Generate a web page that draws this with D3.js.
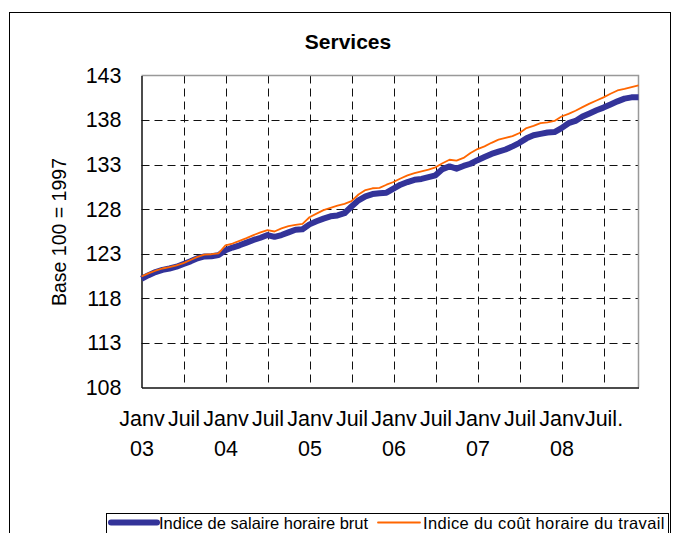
<!DOCTYPE html>
<html>
<head>
<meta charset="utf-8">
<script src="https://cdn.jsdelivr.net/npm/d3@7/dist/d3.min.js"></script>
<style>
  html, body { margin: 0; padding: 0; background: #fff; }
  svg { display: block; font-family: "Liberation Sans", Arial, sans-serif; }
</style>
</head>
<body>
<svg id="chart" width="673" height="533"></svg>
<script>
// ---- Data (monthly, Jan 2003 - Dec 2008) ----
const years = ["03", "04", "05", "06", "07", "08"];
const monthNames = ["Janv", "Févr", "Mars", "Avr", "Mai", "Juin", "Juil", "Août", "Sept", "Oct", "Nov", "Déc"];
const categories = [];
years.forEach(y => monthNames.forEach(m => categories.push(m + " " + y)));

const salaireHoraireBrut = [
  120.2, 120.6, 120.95, 121.2, 121.35, 121.55, 121.85, 122.15, 122.5, 122.7, 122.72, 122.85,
  123.4, 123.7, 123.95, 124.25, 124.55, 124.8, 125.1, 124.9, 125.1, 125.4, 125.7, 125.75,
  126.3, 126.65, 126.95, 127.2, 127.3, 127.55, 128.3, 129.0, 129.45, 129.7, 129.8, 129.85,
  130.3, 130.75, 131.05, 131.3, 131.4, 131.6, 131.8, 132.5, 132.8, 132.55, 132.85, 133.1,
  133.5, 133.85, 134.2, 134.45, 134.7, 135.05, 135.45, 135.95, 136.3, 136.45, 136.6, 136.65,
  137.1, 137.65, 137.9, 138.4, 138.75, 139.1, 139.4, 139.75, 140.1, 140.4, 140.55, 140.55
];
const coutHoraireTravail = [
  120.45, 120.8, 121.1, 121.35, 121.5, 121.7, 121.95, 122.3, 122.65, 122.9, 122.95, 123.05,
  123.95, 124.15, 124.45, 124.75, 125.1, 125.4, 125.65, 125.5, 125.85, 126.1, 126.25, 126.35,
  127.1, 127.5, 127.9, 128.15, 128.4, 128.6, 128.9, 129.65, 130.15, 130.35, 130.4, 130.75,
  131.05, 131.45, 131.8, 132.05, 132.25, 132.45, 132.7, 133.15, 133.55, 133.45, 133.75, 134.3,
  134.75, 135.05, 135.45, 135.8, 136.0, 136.2, 136.55, 137.1, 137.35, 137.65, 137.75, 137.9,
  138.4, 138.7, 139.05, 139.45, 139.85, 140.2, 140.55, 140.95, 141.32, 141.5, 141.7, 141.9
];

const xTickIndex = [0, 6, 12, 18, 24, 30, 36, 42, 48, 54, 60, 66];
const xTickLabels = ["Janv|03", "Juil", "Janv|04", "Juil", "Janv|05", "Juil", "Janv|06", "Juil", "Janv|07", "Juil", "Janv|08", "Juil."];
const yTicks = [108, 113, 118, 123, 128, 133, 138, 143];

const title = "Services";
const yTitle = "Base 100 = 1997";
const seriesNames = ["Indice de salaire horaire brut", "Indice du coût horaire du travail"];

// ---- Layout ----
const svg = d3.select("#chart");
const W = 673, H = 533;
const plot = { left: 141.5, right: 638.5, top: 75.5, bottom: 387.5 };
const FONT = "'Liberation Sans', Arial, sans-serif";

svg.append("rect").attr("width", W).attr("height", H).attr("fill", "#fff");
// outer frame
svg.append("rect")
  .attr("x", 9.5).attr("y", 12.5).attr("width", 661).attr("height", 600)
  .attr("fill", "none").attr("stroke", "#000").attr("stroke-width", 1);

const x = d3.scaleLinear().domain([0, categories.length - 1]).range([plot.left, plot.right]);
const y = d3.scaleLinear().domain([108, 143]).range([plot.bottom, plot.top]);

// gridlines
const grid = svg.append("g");
grid.selectAll("line.h").data(yTicks.filter(v => v > 108 && v < 143)).join("line")
  .attr("x1", plot.left).attr("x2", plot.right)
  .attr("y1", d => Math.round(y(d)) + 0.5).attr("y2", d => Math.round(y(d)) + 0.5)
  .attr("stroke", "#111").attr("stroke-width", 1).attr("stroke-dasharray", "8,5");
grid.selectAll("line.v").data(xTickIndex.filter(i => i > 0)).join("line")
  .attr("y1", plot.top).attr("y2", plot.bottom)
  .attr("x1", d => Math.round(x(d)) + 0.5).attr("x2", d => Math.round(x(d)) + 0.5)
  .attr("stroke", "#111").attr("stroke-width", 1).attr("stroke-dasharray", "8,5");

// plot border (top/right gray)
svg.append("path")
  .attr("d", `M${plot.left},${plot.top}H${plot.right}V${plot.bottom}`)
  .attr("fill", "none").attr("stroke", "#999").attr("stroke-width", 1.5);

// axes
const yAxis = d3.axisLeft(y).tickValues(yTicks).tickSize(0).tickPadding(20).tickFormat(d3.format("d"));
const gy = svg.append("g").attr("transform", `translate(${plot.left},0)`).call(yAxis);
gy.select(".domain").attr("stroke", "#111").attr("stroke-width", 1.5);
gy.selectAll("text").attr("font-size", 21.5).attr("fill", "#000").attr("font-family", FONT);

const xAxis = d3.axisBottom(x).tickValues(xTickIndex).tickSize(0).tickPadding(0)
  .tickFormat((d, i) => xTickLabels[i]);
const gx = svg.append("g").attr("transform", `translate(0,${plot.bottom})`).call(xAxis);
gx.select(".domain").attr("stroke", "#111").attr("stroke-width", 1.5);
gx.selectAll("text").each(function(d, i) {
  const parts = xTickLabels[i].split("|");
  const t = d3.select(this).text(null)
    .attr("font-size", 21.5).attr("fill", "#000").attr("font-family", FONT)
    .attr("dy", null).attr("y", 0);
  parts.forEach((p, k) => {
    t.append("tspan").attr("x", 0).attr("y", 38 + k * 30).text(p);
  });
});

// lines
const line = d3.line().x((d, i) => x(i)).y(d => y(d));
svg.append("path").datum(salaireHoraireBrut)
  .attr("d", line).attr("fill", "none")
  .attr("stroke", "#333399").attr("stroke-width", 6).attr("stroke-linejoin", "round");
svg.append("path").datum(coutHoraireTravail)
  .attr("d", line).attr("fill", "none")
  .attr("stroke", "#FF6600").attr("stroke-width", 1.8).attr("stroke-linejoin", "round");

// title
svg.append("text").attr("x", 348).attr("y", 49).attr("text-anchor", "middle")
  .attr("font-size", 21).attr("font-weight", "bold").attr("font-family", FONT).text(title);

// y title
svg.append("text").attr("transform", "translate(66,232) rotate(-90)")
  .attr("text-anchor", "middle").attr("font-size", 19.5).attr("font-family", FONT).text(yTitle);

// legend
const lg = svg.append("g");
lg.append("rect").attr("x", 106.5).attr("y", 513.5).attr("width", 562).attr("height", 30)
  .attr("fill", "#fff").attr("stroke", "#000").attr("stroke-width", 1);
const legendItems = [
  { name: seriesNames[0], color: "#333399", w: 6, x1: 111, x2: 157, tx: 159, ls: 0 },
  { name: seriesNames[1], color: "#FF6600", w: 1.8, x1: 378, x2: 420, tx: 423, ls: 0.35 }
];
legendItems.forEach(it => {
  lg.append("line").attr("x1", it.x1).attr("x2", it.x2).attr("y1", 522.5).attr("y2", 522.5)
    .attr("stroke", it.color).attr("stroke-width", it.w).attr("stroke-linecap", "round");
  lg.append("text").attr("x", it.tx).attr("y", 528.5).attr("font-size", 16.5)
    .attr("font-family", FONT).attr("letter-spacing", it.ls).text(it.name);
});
</script>
</body>
</html>
